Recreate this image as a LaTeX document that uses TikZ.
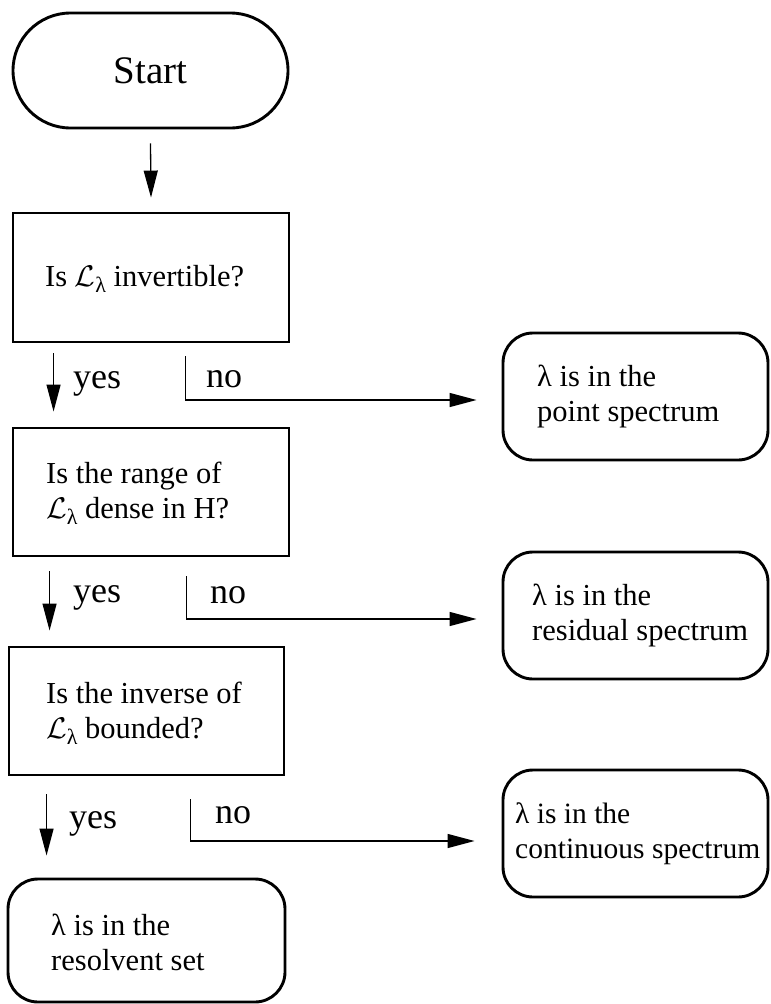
\documentclass[tikz,border=0pt]{standalone}
\usepackage{fontspec}
\usepackage{graphicx}
\setmainfont{Liberation Serif}
\usetikzlibrary{arrows.meta}
\newcommand{\Llam}{\scalebox{1.2}{\(\mathcal{L}\)}\raisebox{-6pt}{\fontsize{22}{22}\selectfont λ}}
\tikzset{
  box/.style={draw, line width=2.9pt, inner sep=0pt},
  startbox/.style={box, minimum width=275pt, minimum height=115pt, rounded corners=57.5pt, font=\fontsize{39}{39}\selectfont},
  decbox/.style={box, rectangle, minimum height=129pt},
  endbox/.style={box, rounded corners=30pt, minimum width=265pt, minimum height=127pt},
  txt/.style={anchor=base west, inner sep=0pt, align=left, font=\fontsize{30.5}{35}\selectfont},
  lbl/.style={anchor=base west, inner sep=0pt, font=\fontsize{36}{36}\selectfont},
  conn/.style={line width=1.3pt, -{Triangle[length=27pt,width=14pt]}},
}
\begin{document}
\begin{tikzpicture}[x=1pt,y=-1pt]
\useasboundingbox (0,0) rectangle (771,1004);
% start
\node[startbox] (start) at (150.5,70.5) {Start};
% decision boxes (text nodes anchored at the baseline of their last line)
\node[decbox, minimum width=276pt] (q1) at (151,277.5) {};
\node[txt] (q1t) at (45,286) {Is \Llam\ invertible?};
\node[decbox, minimum width=276pt, minimum height=128pt] (q2) at (151,492) {};
\node[txt] (q2t) at (46,518) {Is the range of\\\Llam\ dense in H?};
\node[decbox, minimum width=275pt, minimum height=128pt] (q3) at (146.5,711) {};
\node[txt] (q3t) at (46,738) {Is the inverse of\\\Llam\ bounded?};
% result boxes
\node[endbox] (point) at (635.5,396.5) {};
\node[txt] (pointt) at (537,421) {λ is in the\\point spectrum};
\node[endbox] (resid) at (635.5,615.5) {};
\node[txt] (residt) at (532,640) {λ is in the\\residual spectrum};
\node[endbox] (cont) at (635.5,833.5) {};
\node[txt, font=\fontsize{29.5}{35}\selectfont] (contt) at (515,858) {λ is in the\\continuous spectrum};
\node[endbox, minimum width=277pt, minimum height=123pt] (resolv) at (146.5,940.5) {};
\node[txt] (resolvt) at (51,970) {λ is in the\\resolvent set};
% labels
\node[lbl] (yes1) at (73,388) {yes};
\node[lbl] (no1) at (206,387) {no};
\node[lbl] (yes2) at (73,602) {yes};
\node[lbl] (no2) at (210,603) {no};
\node[lbl] (yes3) at (69,828) {yes};
\node[lbl] (no3) at (215,823) {no};
% connectors
\draw[conn] ([yshift=-14pt]start.south) -- ([yshift=14pt]q1.north);
\draw[conn] ([xshift=42pt,yshift=-10pt]q1.south west) -- ([xshift=42pt,yshift=15pt]q2.north west);
\draw[conn] ([xshift=38pt,yshift=-14pt]q2.south west) -- ([xshift=42pt,yshift=15pt]q3.north west);
\draw[conn] ([xshift=39pt,yshift=-18pt]q3.south west) -- ([xshift=39pt,yshift=22pt]q3.south west |- resolv.north);
\draw[conn] ([xshift=174pt,yshift=-13pt]q1.south west) |- ([xshift=-25pt,yshift=-3.5pt]point.west);
\draw[conn] ([xshift=175pt,yshift=-19pt]q2.south west) |- ([xshift=-25pt,yshift=-3.5pt]resid.west);
\draw[conn] ([xshift=183pt,yshift=-23pt]q3.south west) |- ([xshift=-27pt,yshift=-7.5pt]cont.west);
\end{tikzpicture}
\end{document}
